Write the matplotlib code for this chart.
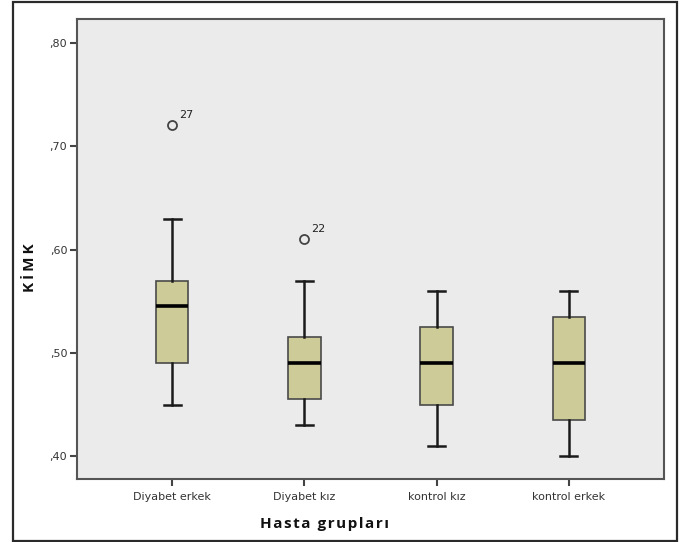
import matplotlib
matplotlib.use("Agg")
import matplotlib.pyplot as plt
from matplotlib.patches import Rectangle

categories = ["Diyabet erkek", "Diyabet kız", "kontrol kız", "kontrol erkek"]
whislo = [0.45, 0.43, 0.41, 0.40]
q1 = [0.49, 0.455, 0.45, 0.435]
med = [0.545, 0.49, 0.49, 0.49]
q3 = [0.57, 0.515, 0.525, 0.535]
whishi = [0.63, 0.57, 0.56, 0.56]
outliers = [[0.72], [0.61], [], []]
outlier_ids = [["27"], ["22"], [], []]
yticks = [0.40, 0.50, 0.60, 0.70, 0.80]
ytick_labels = [",40", ",50", ",60", ",70", ",80"]
xlabel = "Hasta grupları"
ylabel = "KİMK"

W, H = 681, 542
fig = plt.figure(figsize=(W / 100, H / 100), dpi=100)
fig.patch.set_facecolor("white")

# outer frame
fig.patches.append(Rectangle((13 / W, 1 / H), (677 - 13) / W, (540 - 1) / H,
                             transform=fig.transFigure, fill=False,
                             edgecolor="#2a2a2a", linewidth=1.6))

ax = fig.add_axes([77 / W, (H - 479) / H, (664 - 77) / W, (479 - 19) / H])
ax.set_facecolor("#ebebeb")

stats = []
for i, c in enumerate(categories):
    stats.append(dict(label=c, whislo=whislo[i], q1=q1[i], med=med[i],
                      q3=q3[i], whishi=whishi[i], fliers=outliers[i]))

positions = list(range(1, len(categories) + 1))
ax.bxp(stats, positions=positions, widths=0.245, patch_artist=True,
       showfliers=True,
       boxprops=dict(facecolor="#cdcb97", edgecolor="#4a4a4a", linewidth=1.2),
       medianprops=dict(color="black", linewidth=2.6),
       whiskerprops=dict(color="#1a1a1a", linewidth=1.8),
       capprops=dict(color="#1a1a1a", linewidth=1.8),
       capwidths=0.13,
       flierprops=dict(marker="o", markerfacecolor="none",
                       markeredgecolor="#444444", markersize=6.5,
                       markeredgewidth=1.3))

for i, (vals, ids) in enumerate(zip(outliers, outlier_ids)):
    for v, lab in zip(vals, ids):
        ax.annotate(lab, (positions[i], v), xytext=(5, 4),
                    textcoords="offset points", fontsize=8, color="#222222",
                    ha="left", va="bottom")

ax.set_xlim(0.28, 4.72)
ax.set_ylim(0.378, 0.823)
ax.set_yticks(yticks)
ax.set_yticklabels(ytick_labels)
ax.set_xticks(positions)
ax.set_xticklabels(categories)

for s in ax.spines.values():
    s.set_color("#555555")
    s.set_linewidth(1.5)

ax.tick_params(axis="both", direction="out", length=5, width=1.5,
               color="#444444", labelsize=8, labelcolor="#333333")
ax.tick_params(axis="x", pad=4)
ax.tick_params(axis="y", pad=2)

fig.text(30 / W, 1 - 268 / H, "\u2009".join(ylabel), rotation=90,
         ha="center", va="center", fontsize=11, fontweight="bold",
         family=["Open Sans", "DejaVu Sans"], color="#111111")
fig.text(325 / W, 1 - 524 / H, "\u200a".join(xlabel),
         ha="center", va="center", fontsize=11, fontweight="bold",
         family=["Open Sans", "DejaVu Sans"], color="#111111")

fig.savefig("out.png", dpi=100, facecolor="white")
